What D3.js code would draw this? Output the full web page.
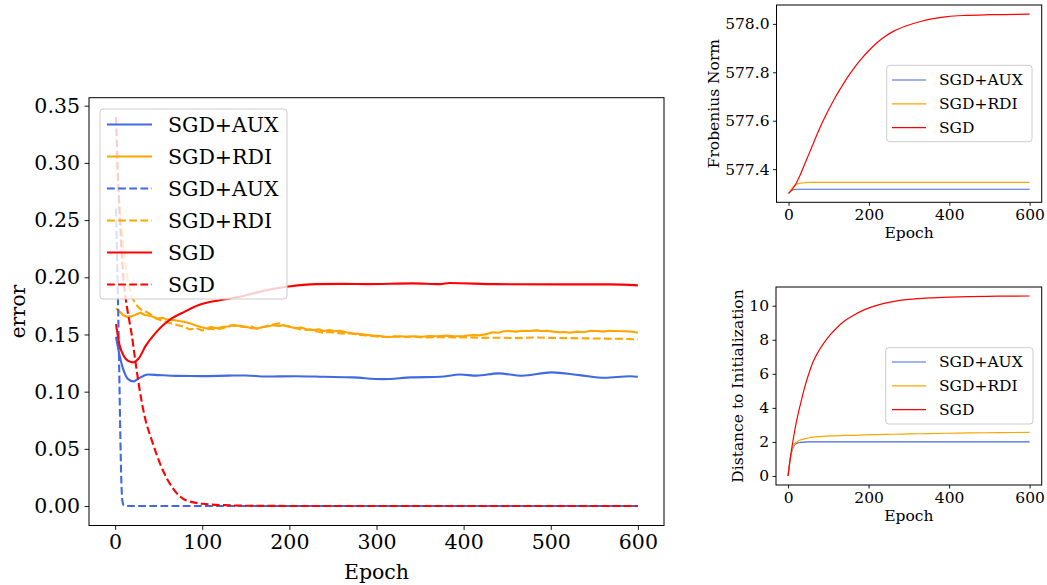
<!DOCTYPE html>
<html><head><meta charset="utf-8">
<script src="https://cdn.jsdelivr.net/npm/d3@7"></script>
<style>
html,body{margin:0;padding:0;background:#fff;}
</style></head>
<body><svg id="c" width="1047" height="585" font-family="DejaVu Serif, serif"></svg>
<script>
// ---------- Main chart data (error vs epoch) ----------
const auxSolidEpochs = [1,5,10,15,21,27,33,38,50,70,100,130,150,173,207,240,273,307,340,373,396,415,440,467,501,533,562,591,600];
const auxSolidValues = [0.148,0.132,0.118,0.111,0.109,0.1116,0.114,0.115,0.1145,0.1138,0.1136,0.114,0.1142,0.1132,0.1135,0.113,0.1125,0.111,0.1125,0.113,0.115,0.114,0.116,0.1139,0.1169,0.1145,0.1122,0.1135,0.113];

const sgdSolidEpochs = [1,5,10,15,21,24,27,35,46,55,65,80,96,120,143,174,197,231,260,289,342,373,384,438,514,568,600];
const sgdSolidValues = [0.159,0.141,0.131,0.127,0.1256,0.127,0.129,0.140,0.151,0.158,0.164,0.170,0.1757,0.180,0.183,0.1888,0.1917,0.194,0.1942,0.194,0.1947,0.194,0.195,0.194,0.1938,0.1938,0.1929];

const rdiSolidEpochs = [1,5,9,13,19,24,29,34,40,48,55,60,67,75,80,86,92,98,105,110,117,124,130,136,143,150,157,163,170,176,181,188,193,200,207,214,220,228,234,239,246,252,258,265,272,280,288,296,304,312,320,328,335,343,352,361,370,380,390,400,410,418,426,433,440,446,453,460,468,476,484,490,495,503,510,516,522,530,538,546,553,560,567,575,583,590,596,600];
const rdiSolidValues = [0.173,0.170,0.167,0.1655,0.1658,0.1675,0.169,0.167,0.1665,0.164,0.1645,0.163,0.1626,0.1615,0.161,0.1597,0.158,0.1565,0.1553,0.1565,0.1555,0.1567,0.157,0.158,0.1575,0.1568,0.1555,0.1553,0.1565,0.1572,0.158,0.1575,0.158,0.1567,0.1555,0.156,0.1544,0.1538,0.1545,0.153,0.1538,0.1528,0.1533,0.152,0.151,0.1505,0.1498,0.149,0.1486,0.1478,0.148,0.1485,0.148,0.1485,0.148,0.1486,0.1484,0.149,0.1485,0.1486,0.1495,0.1492,0.1503,0.152,0.1515,0.1528,0.153,0.1525,0.1532,0.153,0.1536,0.1528,0.1533,0.1525,0.152,0.1522,0.1515,0.1525,0.152,0.1532,0.153,0.1525,0.1532,0.153,0.1528,0.1526,0.1522,0.1515];

const auxDashEpochs = [1,2,3,4,5,6,7,8,9,10,12,20,600];
const auxDashValues = [0.26,0.225,0.19,0.15,0.105,0.06,0.025,0.007,0.002,0.0005,0.0001,0,0];

const rdiDashEpochs = [1,3,5,8,11,15,19,24,29,34,40,48,55,62,70,78,86,93,100,108,117,125,133,140,148,156,163,170,178,184,189,196,203,210,216,224,231,239,246,254,262,270,280,290,300,310,320,330,340,350,361,375,390,405,420,440,460,480,500,520,540,560,580,600];
const rdiDashValues = [0.31,0.285,0.26,0.235,0.215,0.195,0.183,0.176,0.172,0.1705,0.168,0.1635,0.162,0.16,0.1585,0.157,0.1544,0.1555,0.1535,0.155,0.1544,0.1558,0.158,0.1575,0.1565,0.157,0.155,0.1565,0.158,0.1592,0.1597,0.1575,0.1565,0.155,0.1538,0.1545,0.1528,0.1515,0.1522,0.1512,0.151,0.151,0.1495,0.149,0.1482,0.1478,0.1484,0.1478,0.1482,0.1476,0.1474,0.1478,0.1474,0.1476,0.147,0.1472,0.1468,0.1474,0.147,0.1468,0.1466,0.1464,0.1462,0.1457];

const sgdDashEpochs = [1,3,5,8,11,14,19,23,27,34,42,53,65,80,100,126,150,200,300,600];
const sgdDashValues = [0.34,0.295,0.258,0.215,0.188,0.172,0.15,0.128,0.107,0.078,0.0577,0.0344,0.017,0.0055,0.002,0.0008,0.0003,0.0001,0,0];

const mainYTicks = [0.00,0.05,0.10,0.15,0.20,0.25,0.30,0.35];
const mainXTicks = [0,100,200,300,400,500,600];

// ---------- Right charts data ----------
const frobEpochs = [0,10,20,30,40,50,60,70,80,90,100,115,130,145,162,180,200,220,240,262,290,328,360,395,440,500,600];
const frobSGD = [577.300,577.318,577.345,577.38,577.42,577.46,577.50,577.54,577.578,577.613,577.646,577.693,577.735,577.775,577.815,577.853,577.89,577.922,577.948,577.97,577.99,578.01,578.022,578.03,578.035,578.038,578.04];
const frobAUX = [577.300,577.314,577.317,577.317,577.317,577.317,577.317,577.317,577.317,577.317,577.317,577.317,577.317,577.317,577.317,577.317,577.317,577.317,577.317,577.317,577.317,577.317,577.317,577.317,577.317,577.317,577.317];
const frobRDI = [577.300,577.325,577.337,577.342,577.344,577.345,577.345,577.345,577.345,577.345,577.345,577.345,577.345,577.345,577.345,577.345,577.345,577.345,577.345,577.345,577.345,577.345,577.345,577.345,577.345,577.345,577.345];
const frobYTicks = [577.4,577.6,577.8,578.0];

const distEpochs = [0,5,10,15,20,25,30,40,50,62,75,90,105,120,140,162,190,220,260,300,350,400,450,520,600];
const distSGD = [0,0.95,1.75,2.45,3.1,3.65,4.15,5.1,5.9,6.7,7.3,7.85,8.3,8.68,9.1,9.43,9.77,10.02,10.24,10.37,10.46,10.51,10.54,10.56,10.57];
const distAUX = [0,0.95,1.5,1.78,1.9,1.95,1.97,1.99,2.0,2.0,2.0,2.0,2.0,2.0,2.0,2.0,2.0,2.0,2.0,2.0,2.0,2.0,2.0,2.0,2.0];
const distRDI = [0,0.95,1.55,1.84,1.98,2.06,2.11,2.18,2.23,2.28,2.31,2.33,2.35,2.36,2.38,2.39,2.41,2.43,2.45,2.47,2.49,2.51,2.53,2.545,2.56];
const distYTicks = [0,2,4,6,8,10];
const smallXTicks = [0,200,400,600];

const BLUE = "#4169E1", ORANGE = "#FFA500", RED = "#FF0000";
const FONT = "DejaVu Serif, serif";

const svg = d3.select("#c");

function zip(xs, ys){ return xs.map((x,i)=>[x, ys[i]]); }

let clipCount = 0;
function panel(o){
  const x = d3.scaleLinear().domain(o.xDomain).range([o.left, o.right]);
  const y = d3.scaleLinear().domain(o.yDomain).range([o.bottom, o.top]);
  const g = svg.append("g");
  const clipId = "clip" + (clipCount++);
  g.append("clipPath").attr("id", clipId).append("rect")
    .attr("x", o.left).attr("y", o.top).attr("width", o.right-o.left).attr("height", o.bottom-o.top);
  const lines = g.append("g").attr("clip-path", `url(#${clipId})`);
  o.series.forEach(s=>{
    const line = d3.line().x(d=>x(d[0])).y(d=>y(d[1])).curve(s.curve || d3.curveMonotoneX);
    lines.append("path").datum(zip(s.xs, s.ys)).attr("d", line)
      .attr("fill","none").attr("stroke", s.color).attr("stroke-width", o.lw)
      .attr("stroke-dasharray", s.dash ? `${3.7*o.lw},${1.6*o.lw}` : null)
      .attr("stroke-linejoin","round");
  });
  const xa = g.append("g").attr("transform", `translate(0,${o.bottom})`)
    .call(d3.axisBottom(x).tickValues(o.xTicks).tickFormat(d3.format("d")).tickSize(o.tick).tickPadding(o.pad));
  const ya = g.append("g").attr("transform", `translate(${o.left},0)`)
    .call(d3.axisLeft(y).tickValues(o.yTicks).tickFormat(d3.format(o.yFmt)).tickSize(o.tick).tickPadding(o.pad));
  [xa, ya].forEach(a=>{
    a.attr("font-family", FONT).attr("font-size", o.fs);
    a.select(".domain").remove();
    a.selectAll("line").attr("stroke","#000").attr("stroke-width",0.9);
    a.selectAll("text").attr("font-family", FONT).attr("font-size", o.fs).attr("fill","#000");
  });
  g.append("rect").attr("x", o.left).attr("y", o.top).attr("width", o.right-o.left).attr("height", o.bottom-o.top)
    .attr("fill","none").attr("stroke","#000").attr("stroke-width",1);
  g.append("text").attr("x", (o.left+o.right)/2).attr("y", o.xLabelY).attr("text-anchor","middle")
    .attr("font-family", FONT).attr("font-size", o.fs).attr("fill","#000").text("Epoch");
  g.append("text").attr("transform", `translate(${o.yLabelX},${(o.top+o.bottom)/2}) rotate(-90)`)
    .attr("text-anchor","middle").attr("dominant-baseline","central")
    .attr("font-family", FONT).attr("font-size", o.fs).attr("fill","#000").text(o.yLabel);
  const L = o.legend;
  const lg = g.append("g");
  lg.append("rect").attr("x", L.x0).attr("y", L.y0).attr("width", L.x1-L.x0).attr("height", L.y1-L.y0)
    .attr("rx", 3).attr("fill","#fff").attr("fill-opacity",0.8).attr("stroke","#cccccc").attr("stroke-width",1);
  L.items.forEach((it,i)=>{
    const yy = L.rowY + i*L.rowStep;
    lg.append("line").attr("x1", L.h0).attr("x2", L.h1).attr("y1", yy).attr("y2", yy)
      .attr("stroke", it.color).attr("stroke-width", o.lw)
      .attr("stroke-dasharray", it.dash ? `${3.7*o.lw},${1.6*o.lw}` : null);
    lg.append("text").attr("x", L.tx).attr("y", yy).attr("dominant-baseline","central")
      .attr("font-family", FONT).attr("font-size", o.fs).attr("fill","#000").text(it.label);
  });
}

// Main chart
panel({
  left: 89, right: 664, top: 97.7, bottom: 525.5,
  xDomain: [-30, 630], yDomain: [-0.017, 0.357],
  xTicks: mainXTicks, yTicks: mainYTicks, yFmt: ".2f",
  tick: 4.5, pad: 4.5, fs: 20.5, lw: 2.1,
  xLabelY: 579, yLabelX: 18, yLabel: "error",
  series: [
    {xs: auxSolidEpochs, ys: auxSolidValues, color: BLUE},
    {xs: rdiSolidEpochs, ys: rdiSolidValues, color: ORANGE, curve: d3.curveLinear},
    {xs: auxDashEpochs, ys: auxDashValues, color: BLUE, dash: true},
    {xs: rdiDashEpochs, ys: rdiDashValues, color: ORANGE, dash: true, curve: d3.curveLinear},
    {xs: sgdSolidEpochs, ys: sgdSolidValues, color: RED},
    {xs: sgdDashEpochs, ys: sgdDashValues, color: RED, dash: true}
  ],
  legend: {x0: 100, y0: 109, x1: 287, y1: 299, rowY: 124.5, rowStep: 32, h0: 107, h1: 152, tx: 168,
    items: [
      {label:"SGD+AUX", color: BLUE},
      {label:"SGD+RDI", color: ORANGE},
      {label:"SGD+AUX", color: BLUE, dash: true},
      {label:"SGD+RDI", color: ORANGE, dash: true},
      {label:"SGD", color: RED},
      {label:"SGD", color: RED, dash: true}
    ]}
});

// Frobenius norm
panel({
  left: 776.5, right: 1041.7, top: 5, bottom: 202.3,
  xDomain: [-30, 630], yDomain: [577.263, 578.078],
  xTicks: smallXTicks, yTicks: frobYTicks, yFmt: ".1f",
  tick: 3.5, pad: 3.5, fs: 15.5, lw: 1.2,
  xLabelY: 238, yLabelX: 714, yLabel: "Frobenius Norm",
  series: [
    {xs: frobEpochs, ys: frobAUX, color: BLUE},
    {xs: frobEpochs, ys: frobRDI, color: ORANGE},
    {xs: frobEpochs, ys: frobSGD, color: RED}
  ],
  legend: {x0: 886.7, y0: 65.3, x1: 1032, y1: 141.7, rowY: 80, rowStep: 23.8, h0: 892, h1: 926, tx: 939,
    items: [
      {label:"SGD+AUX", color: BLUE},
      {label:"SGD+RDI", color: ORANGE},
      {label:"SGD", color: RED}
    ]}
});

// Distance to initialization
panel({
  left: 776, right: 1041.7, top: 287, bottom: 485,
  xDomain: [-30, 630], yDomain: [-0.53, 11.1],
  xTicks: smallXTicks, yTicks: distYTicks, yFmt: "d",
  tick: 3.5, pad: 3.5, fs: 15.5, lw: 1.2,
  xLabelY: 521, yLabelX: 738, yLabel: "Distance to Initialization",
  series: [
    {xs: distEpochs, ys: distAUX, color: BLUE},
    {xs: distEpochs, ys: distRDI, color: ORANGE},
    {xs: distEpochs, ys: distSGD, color: RED}
  ],
  legend: {x0: 885.7, y0: 347.7, x1: 1033, y1: 424, rowY: 362, rowStep: 23.8, h0: 892, h1: 926, tx: 939,
    items: [
      {label:"SGD+AUX", color: BLUE},
      {label:"SGD+RDI", color: ORANGE},
      {label:"SGD", color: RED}
    ]}
});
</script></body></html>
